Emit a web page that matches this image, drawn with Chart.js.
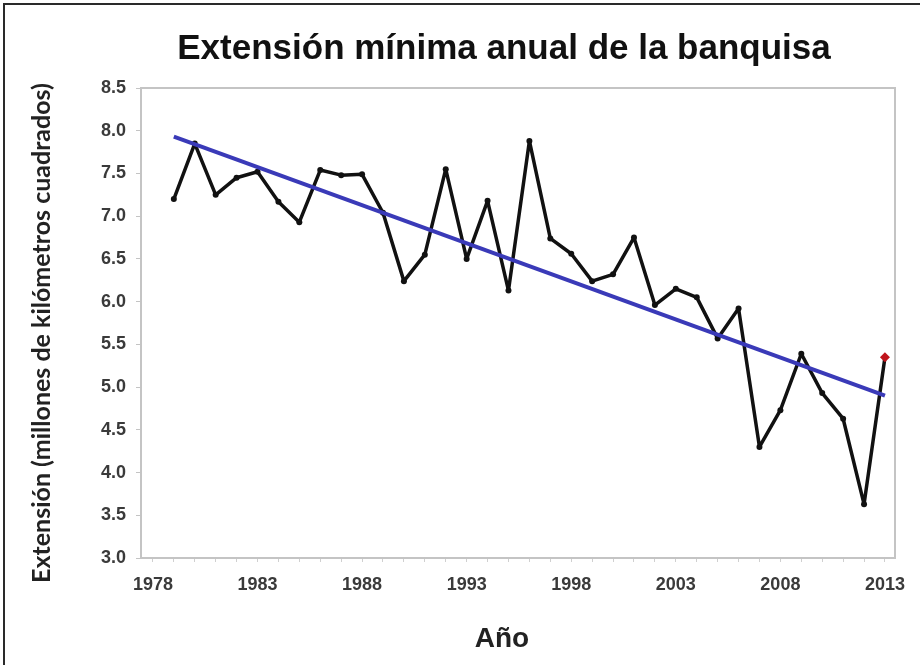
<!DOCTYPE html>
<html>
<head>
<meta charset="utf-8">
<script src="https://cdn.jsdelivr.net/npm/chart.js@4.4.1/dist/chart.umd.min.js"></script>
<style>
  html, body { margin: 0; padding: 0; background: #fff; }
  #wrap { width: 920px; height: 665px; position: relative; }
</style>
</head>
<body>
<div id="wrap"><canvas id="c" width="920" height="665"></canvas></div>
<script>
// ---- data ----
const years = [1979,1980,1981,1982,1983,1984,1985,1986,1987,1988,1989,1990,1991,1992,1993,1994,1995,1996,1997,1998,1999,2000,2001,2002,2003,2004,2005,2006,2007,2008,2009,2010,2011,2012,2013];
const extent = [7.20,7.85,7.25,7.45,7.52,7.17,6.93,7.54,7.48,7.49,7.04,6.24,6.55,7.55,6.50,7.18,6.13,7.88,6.74,6.56,6.24,6.32,6.75,5.96,6.15,6.05,5.57,5.92,4.30,4.73,5.39,4.93,4.63,3.63,5.35];
const trendYears = [1979, 2013];
const trendValues = [7.93, 4.90];
const xTickLabels = [1978,1983,1988,1993,1998,2003,2008,2013];
const xMinorTicks = [1978,1979,1980,1981,1982,1983,1984,1985,1986,1987,1988,1989,1990,1991,1992,1993,1994,1995,1996,1997,1998,1999,2000,2001,2002,2003,2004,2005,2006,2007,2008,2009,2010,2011,2012,2013];
const yTickLabels = ['3.0','3.5','4.0','4.5','5.0','5.5','6.0','6.5','7.0','7.5','8.0','8.5'];

const titleText = 'Extensión mínima anual de la banquisa';
const xTitle = 'Año';
const yTitle = 'Extensión (millones de kilómetros cuadrados)';

const seriesPoints = years.map((y, i) => ({x: y, y: extent[i]}));
const trendPoints = trendYears.map((y, i) => ({x: y, y: trendValues[i]}));
const lastIdx = years.length - 1;

const decor = {
  id: 'decor',
  beforeDraw(chart) {
    const ctx = chart.ctx;
    ctx.save();
    ctx.fillStyle = '#ffffff';
    ctx.fillRect(0, 0, chart.width, chart.height);
    ctx.strokeStyle = '#2a2a2a';
    ctx.lineWidth = 2;
    ctx.beginPath();
    ctx.moveTo(4, 665); ctx.lineTo(4, 4); ctx.lineTo(920, 4);
    ctx.stroke();
    ctx.restore();
  },
  beforeDatasetsDraw(chart) {
    const a = chart.chartArea, ctx = chart.ctx;
    ctx.save();
    ctx.strokeStyle = '#c4c4c4';
    ctx.lineWidth = 2;
    ctx.strokeRect(a.left, a.top, a.right - a.left, a.bottom - a.top);
    ctx.restore();
  },
  afterDraw(chart) {
    const ctx = chart.ctx;
    ctx.save();
    ctx.fillStyle = '#111';
    ctx.textAlign = 'center';
    ctx.textBaseline = 'alphabetic';
    ctx.font = 'bold 35px "Liberation Sans", Arial, sans-serif';
    ctx.fillText(titleText, 504, 59);
    ctx.font = 'bold 28px "Liberation Sans", Arial, sans-serif';
    ctx.fillStyle = '#222';
    ctx.fillText(xTitle, 502, 647);
    ctx.translate(50, 333);
    ctx.rotate(-Math.PI / 2);
    ctx.font = 'bold 25px Lato, "Open Sans", sans-serif';
    ctx.fillStyle = '#222';
    ctx.fillText(yTitle, 0, 0);
    ctx.restore();
  }
};

new Chart(document.getElementById('c'), {
  type: 'scatter',
  data: {
    datasets: [
      {
        label: 'Tendencia',
        data: trendPoints,
        showLine: true,
        borderColor: '#3a3ab8',
        borderWidth: 4,
        pointRadius: 0,
        fill: false
      },
      {
        label: 'Extensión',
        data: seriesPoints,
        showLine: true,
        borderColor: '#111111',
        borderWidth: 3.5,
        borderJoinStyle: 'round',
        borderCapStyle: 'round',
        pointRadius: seriesPoints.map((p, i) => i === lastIdx ? 5 : 3),
        pointStyle: seriesPoints.map((p, i) => i === lastIdx ? 'rectRot' : 'circle'),
        pointBackgroundColor: seriesPoints.map((p, i) => i === lastIdx ? '#c0141c' : '#111111'),
        pointBorderWidth: 0,
        fill: false
      }
    ]
  },
  options: {
    responsive: false,
    animation: false,
    devicePixelRatio: 1,
    layout: { padding: { left: 0, right: 25, top: 88, bottom: 0 } },
    plugins: { legend: { display: false }, tooltip: { enabled: false }, title: { display: false } },
    scales: {
      x: {
        type: 'linear',
        min: 1977.43,
        max: 2013.48,
        afterBuildTicks(s) { s.ticks = xMinorTicks.map(v => ({ value: v })); },
        afterFit(s) { s.height = 107; },
        ticks: {
          autoSkip: false,
          maxRotation: 0,
          padding: 12,
          color: '#3a3a3a',
          font: { family: '"Liberation Sans", Arial, sans-serif', size: 18, weight: 'bold' },
          callback(v) { return xTickLabels.includes(v) ? String(v) : ''; }
        },
        grid: { drawOnChartArea: false, tickLength: 4, color: '#d0d0d0' },
        border: { display: false }
      },
      y: {
        type: 'linear',
        min: 3,
        max: 8.5,
        afterBuildTicks(s) { s.ticks = yTickLabels.map(v => ({ value: parseFloat(v) })); },
        afterFit(s) { s.width = 141; },
        ticks: {
          padding: 10,
          color: '#3a3a3a',
          font: { family: '"Liberation Sans", Arial, sans-serif', size: 18, weight: 'bold' },
          callback(v) { return yTickLabels[yTickLabels.map(parseFloat).indexOf(v)]; }
        },
        grid: { drawOnChartArea: false, tickLength: 5, color: '#c4c4c4' },
        border: { display: false }
      }
    }
  },
  plugins: [decor]
});
</script>
</body>
</html>
